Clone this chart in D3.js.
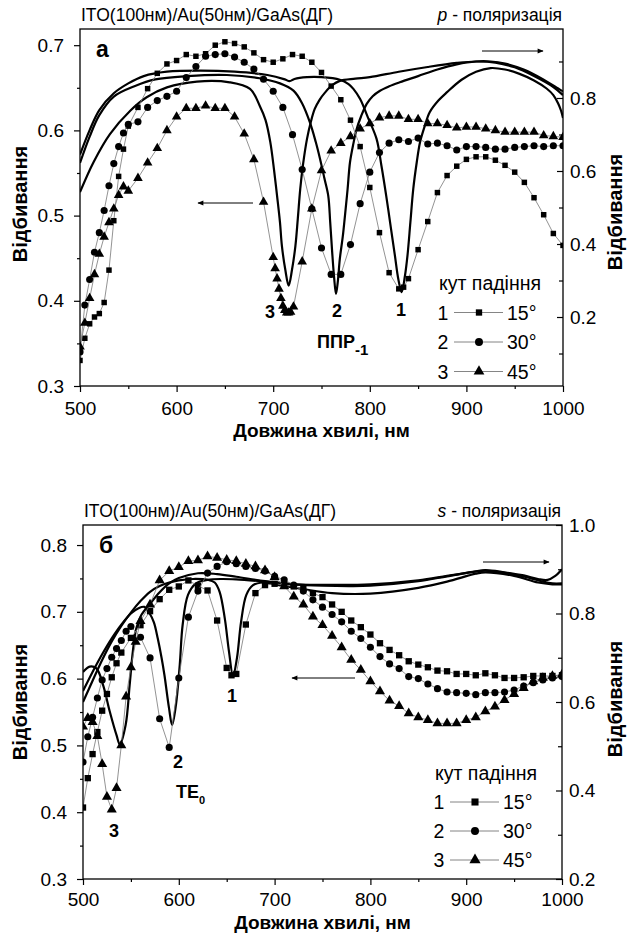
<!DOCTYPE html>
<html><head><meta charset="utf-8">
<script src="https://cdn.jsdelivr.net/npm/d3@7"></script>
<style>
body{margin:0;background:#fff}
text{font-family:Arial,"Liberation Sans",sans-serif;fill:#000}
</style></head>
<body><svg id="c" width="627" height="933"></svg>
<script>
// ===== Panel а (p-polarisation): experiment (left axis) =====
const wlP1 = [500,505,510,515,520,525,530,535,540,545,550,560,570,580,590,600,610,620,630,640,650,660,670,680,690,700,710,720,730,740,750,760,770,780,790,800,810,820,830,835,840,850,860,870,880,890,900,910,920,930,940,950,960,970,980,990,1000];
const rP1  = [0.330,0.356,0.373,0.381,0.385,0.398,0.436,0.494,0.546,0.578,0.605,0.627,0.649,0.667,0.678,0.682,0.689,0.687,0.690,0.700,0.704,0.702,0.698,0.691,0.683,0.680,0.684,0.689,0.687,0.680,0.668,0.652,0.636,0.612,0.581,0.533,0.480,0.433,0.414,0.416,0.426,0.460,0.493,0.527,0.547,0.558,0.566,0.569,0.569,0.565,0.559,0.551,0.539,0.521,0.501,0.479,0.465];
const wlP2 = [500,505,510,515,520,525,530,535,540,545,550,560,570,580,590,600,610,620,630,640,650,660,670,680,690,700,710,720,730,740,750,760,770,780,790,800,810,820,830,840,850,860,870,880,890,900,910,920,930,940,950,960,970,980,990,1000];
const rP2  = [0.340,0.395,0.425,0.457,0.480,0.506,0.535,0.561,0.581,0.597,0.607,0.610,0.627,0.635,0.640,0.646,0.662,0.675,0.687,0.689,0.690,0.686,0.680,0.672,0.660,0.646,0.627,0.595,0.554,0.508,0.462,0.431,0.431,0.466,0.514,0.551,0.574,0.585,0.589,0.587,0.591,0.584,0.585,0.582,0.577,0.581,0.581,0.580,0.578,0.578,0.580,0.581,0.582,0.581,0.582,0.582];
const wlP3 = [500,505,510,515,520,525,530,535,540,545,550,560,570,580,590,600,610,620,630,640,650,660,670,680,690,700,702,704,706,708,710,712,714,716,718,721,730,740,750,760,770,780,790,800,810,820,830,840,850,860,870,880,890,900,910,920,930,940,950,960,970,980,990,1000];
const rP3  = [0.346,0.374,0.403,0.431,0.455,0.475,0.492,0.508,0.524,0.534,0.529,0.544,0.562,0.579,0.600,0.616,0.626,0.626,0.629,0.626,0.626,0.616,0.596,0.566,0.516,0.451,0.438,0.426,0.414,0.403,0.394,0.389,0.386,0.386,0.387,0.393,0.446,0.508,0.553,0.576,0.585,0.593,0.602,0.608,0.615,0.617,0.617,0.613,0.613,0.608,0.608,0.606,0.603,0.604,0.604,0.602,0.600,0.598,0.598,0.598,0.598,0.594,0.593,0.592];
// ===== Panel а: calculation (right axis) =====
const thWlP1 = [500,510,520,535,550,566,590,625,660,694,712,717,722,735,750,769,778,783,790,798,807,812,817,822,826,829.5,833,836.4,839,842,845,848.6,852,857,862,871,880,895,910,925,940,955,970,983,990,995,998,1000];
const thRP1  = [0.645,0.712,0.767,0.813,0.840,0.860,0.872,0.875,0.872,0.863,0.851,0.846,0.852,0.857,0.857,0.850,0.838,0.825,0.797,0.747,0.688,0.615,0.532,0.441,0.368,0.304,0.268,0.313,0.368,0.459,0.551,0.624,0.679,0.724,0.761,0.793,0.816,0.850,0.872,0.882,0.878,0.866,0.848,0.826,0.808,0.785,0.765,0.745];
const thWlP2 = [500,510,520,535,557,578,611,652,686,707,721,730,738,744,748.5,753,757,759,761,763,765,767,769,772,774.3,777,779.5,783,786.4,791,796.8,803,810.6,820,831,850,870,890,910,925,940,960,980,995,1000];
const thRP2  = [0.622,0.694,0.753,0.804,0.833,0.851,0.860,0.863,0.854,0.840,0.820,0.785,0.733,0.680,0.633,0.580,0.532,0.460,0.380,0.310,0.263,0.300,0.360,0.420,0.478,0.550,0.624,0.675,0.715,0.750,0.784,0.805,0.820,0.832,0.843,0.860,0.878,0.892,0.900,0.900,0.894,0.877,0.850,0.826,0.818];
const thWlP3 = [500,514,531,552,569,590,621,655,676,686,692,697,701,704,707,709,712.5,716,719.5,723,725.5,728,731,735,739,743,748,754,761,769,785,800,830,860,890,910,930,950,970,990,1000];
const thRP3  = [0.542,0.624,0.701,0.765,0.802,0.829,0.845,0.843,0.825,0.779,0.740,0.679,0.600,0.532,0.460,0.395,0.330,0.286,0.330,0.395,0.470,0.551,0.620,0.688,0.735,0.770,0.795,0.816,0.835,0.847,0.853,0.857,0.872,0.885,0.896,0.900,0.897,0.884,0.860,0.830,0.808];

// ===== Panel б (s-polarisation): experiment (left axis) =====
const wlS1 = [500,505,510,515,520,525,530,535,540,550,560,570,580,590,600,610,620,630,640,650,655,660,670,680,690,700,710,720,730,740,750,760,770,780,790,800,810,820,830,840,850,860,870,880,890,900,910,920,930,940,950,960,970,980,990,1000];
const rS1  = [0.407,0.451,0.487,0.520,0.552,0.577,0.602,0.623,0.639,0.661,0.680,0.701,0.719,0.733,0.738,0.747,0.739,0.732,0.687,0.616,0.605,0.607,0.681,0.728,0.740,0.742,0.740,0.738,0.735,0.728,0.722,0.711,0.700,0.687,0.677,0.666,0.653,0.643,0.635,0.626,0.621,0.617,0.612,0.611,0.607,0.607,0.605,0.608,0.605,0.601,0.601,0.602,0.604,0.604,0.604,0.605];
const wlS2 = [500,505,510,515,520,525,530,535,540,545,550,560,570,580,590,600,610,620,630,640,650,660,670,680,690,700,710,720,730,740,750,760,770,780,790,800,810,820,830,840,850,860,870,880,890,900,910,920,930,940,950,960,970,980,990,1000];
const rS2  = [0.475,0.513,0.542,0.571,0.598,0.615,0.632,0.645,0.657,0.671,0.678,0.662,0.631,0.540,0.497,0.601,0.692,0.731,0.758,0.768,0.775,0.772,0.768,0.765,0.761,0.753,0.748,0.740,0.731,0.718,0.707,0.696,0.685,0.671,0.660,0.647,0.633,0.622,0.615,0.603,0.600,0.592,0.585,0.580,0.579,0.578,0.576,0.579,0.579,0.580,0.583,0.589,0.594,0.598,0.601,0.603];
const wlS3 = [500,505,510,515,520,525,530,535,540,545,550,555,560,570,580,590,600,610,620,630,640,650,660,670,680,690,700,710,720,730,740,750,760,770,780,790,800,810,820,830,840,850,860,870,880,890,900,910,920,930,940,950,960,970,980,990,1000];
const rS3  = [0.528,0.541,0.535,0.514,0.472,0.423,0.404,0.436,0.500,0.573,0.617,0.655,0.686,0.711,0.747,0.761,0.767,0.776,0.777,0.783,0.781,0.778,0.776,0.772,0.768,0.762,0.752,0.738,0.723,0.711,0.693,0.680,0.664,0.647,0.628,0.613,0.596,0.581,0.567,0.559,0.548,0.542,0.538,0.533,0.533,0.533,0.538,0.542,0.551,0.558,0.568,0.577,0.586,0.596,0.601,0.604,0.606];
// ===== Panel б: calculation (right axis) =====
const thWlS1 = [500,510,520,530,540,550,560,570,580,590,600,615,630,637.5,642.6,648,652.4,656.6,660.7,665,670.5,677.5,688,700,730,760,800,850,880,910,920,950,975,990,1000];
const thRS1  = [0.600,0.648,0.695,0.737,0.772,0.802,0.828,0.849,0.862,0.870,0.875,0.878,0.876,0.870,0.849,0.789,0.714,0.659,0.699,0.781,0.842,0.864,0.870,0.866,0.855,0.846,0.845,0.858,0.872,0.890,0.893,0.885,0.870,0.866,0.866];
const thWlS2 = [500,510,520,530,540,550,558,564,569.6,574,578,582,585,589.8,593,597,601,604,609.6,618,630,645,660,690,720,750,800,850,880,910,920,940,960,975,985,993,1000];
const thRS2  = [0.625,0.668,0.708,0.744,0.775,0.800,0.812,0.815,0.800,0.780,0.744,0.700,0.661,0.586,0.548,0.593,0.684,0.774,0.842,0.868,0.876,0.878,0.877,0.872,0.866,0.865,0.866,0.875,0.885,0.895,0.898,0.893,0.886,0.878,0.876,0.885,0.900];
const thWlS3 = [500,507,514,521,528,535,538.5,544.5,548.7,552,555.6,561,570,580,590,600,620,640,660,690,720,750,780,800,850,880,910,920,940,960,980,990,1000];
const thRS3  = [0.668,0.680,0.676,0.638,0.578,0.525,0.504,0.548,0.638,0.714,0.766,0.797,0.822,0.848,0.868,0.880,0.891,0.889,0.883,0.873,0.866,0.863,0.862,0.863,0.873,0.884,0.895,0.897,0.892,0.884,0.872,0.868,0.868];

// ===== Axis ticks =====
const xMajor = [500,600,700,800,900,1000];
const xMinor = [550,650,750,850,950];
const yLeftMajorP = [0.3,0.4,0.5,0.6,0.7];
const yLeftMinorP = [0.35,0.45,0.55,0.65];
const yRightMajorP = [0.2,0.4,0.6,0.8];
const yRightMinorP = [0.1,0.3,0.5,0.7,0.9];
const yLeftMajorS = [0.3,0.4,0.5,0.6,0.7,0.8];
const yLeftMinorS = [0.35,0.45,0.55,0.65,0.75];
const yRightMajorS = [0.2,0.4,0.6,0.8,1.0];
const yRightMinorS = [0.3,0.5,0.7,0.9];
const legendAngles = ["15°","30°","45°"];

const svg = d3.select("#c");
const defs = svg.append("defs");
defs.append("marker").attr("id","ah").attr("viewBox","0 0 10 10").attr("refX",9).attr("refY",5)
  .attr("markerWidth",9).attr("markerHeight",6).attr("markerUnits","userSpaceOnUse").attr("orient","auto")
  .append("path").attr("d","M0,1 L10,5 L0,9 Z").attr("fill","#000");

const symbols = [d3.symbolSquare, d3.symbolCircle, d3.symbolTriangle];
const FONT = "Arial, 'Liberation Sans', sans-serif";

function panel(o){
  const x = d3.scaleLinear().domain([500,1000]).range([o.x0,o.x1]);
  const yL = d3.scaleLinear().domain(o.lDom).range([o.y1,o.y0]);
  const yR = d3.scaleLinear().domain(o.rDom).range([o.y1,o.y0]);
  const g = svg.append("g");
  const cid = "clip"+o.id;
  defs.append("clipPath").attr("id",cid).append("rect")
    .attr("x",o.x0).attr("y",o.y0).attr("width",o.x1-o.x0).attr("height",o.y1-o.y0);
  const plot = g.append("g").attr("clip-path","url(#"+cid+")");

  const lineR = d3.line().x(d=>x(d[0])).y(d=>yR(d[1])).curve(d3.curveCatmullRom.alpha(0.5));
  o.th.forEach(t=>{
    plot.append("path").attr("d",lineR(d3.zip(t[0],t[1]))).attr("fill","none")
      .attr("stroke","#000").attr("stroke-width",2.2);
  });
  const lineL = d3.line().x(d=>x(d[0])).y(d=>yL(d[1]));
  o.ex.forEach((s,i)=>{
    const pts = d3.zip(s[0],s[1]);
    plot.append("path").attr("d",lineL(pts)).attr("fill","none").attr("stroke","#777").attr("stroke-width",0.8);
    plot.selectAll(null).data(pts).enter().append("path")
      .attr("transform",d=>`translate(${x(d[0])},${yL(d[1])})`)
      .attr("d",d3.symbol().type(symbols[i]).size(o.symSize[i])).attr("fill","#000");
  });

  g.append("rect").attr("x",o.x0).attr("y",o.y0).attr("width",o.x1-o.x0).attr("height",o.y1-o.y0)
    .attr("fill","none").attr("stroke","#000").attr("stroke-width",1.3);

  const style = a=>{a.select(".domain").remove(); a.selectAll("line").attr("stroke","#000").attr("stroke-width",1.2);
    a.selectAll("text").attr("font-size",19).attr("font-family",FONT);};
  g.append("g").attr("transform",`translate(0,${o.y1})`)
    .call(d3.axisBottom(x).tickValues(xMajor).tickSize(6).tickPadding(o.xPad).tickFormat(d3.format("d"))).call(style);
  g.append("g").attr("transform",`translate(0,${o.y1})`)
    .call(d3.axisBottom(x).tickValues(xMinor).tickSize(3).tickFormat("")).call(style);
  g.append("g").attr("transform",`translate(${o.x0},0)`)
    .call(d3.axisLeft(yL).tickValues(o.lMaj).tickSize(6).tickPadding(10).tickFormat(d3.format(".1f"))).call(style);
  g.append("g").attr("transform",`translate(${o.x0},0)`)
    .call(d3.axisLeft(yL).tickValues(o.lMin).tickSize(3).tickFormat("")).call(style);
  g.append("g").attr("transform",`translate(${o.x1},0)`)
    .call(d3.axisRight(yR).tickValues(o.rMaj).tickSizeInner(-6).tickSizeOuter(0).tickPadding(7).tickFormat(d3.format(".1f"))).call(style);
  g.append("g").attr("transform",`translate(${o.x1},0)`)
    .call(d3.axisRight(yR).tickValues(o.rMin).tickSizeInner(-4).tickSizeOuter(0).tickFormat("")).call(style);

  g.append("text").attr("x",o.x0+1).attr("y",o.y0-8).attr("font-size",17.5).text("ITO(100нм)/Au(50нм)/GaAs(ДГ)");
  const pt = g.append("text").attr("x",o.x1-1).attr("y",o.y0-8).attr("font-size",17.5).attr("text-anchor","end");
  pt.append("tspan").attr("font-style","italic").text(o.pol);
  pt.append("tspan").text(" - поляризація");
  g.append("text").attr("x",o.x0+16).attr("y",o.y0+o.letterDy).attr("font-size",23).attr("font-weight","bold").text(o.letter);
  g.append("text").attr("x",(o.x0+o.x1)/2).attr("y",o.xLabY).attr("font-size",19).attr("font-weight","bold")
    .attr("text-anchor","middle").text("Довжина хвилі, нм");
  g.append("text").attr("transform",`translate(27,${o.ylabL}) rotate(-90)`).attr("font-size",20).attr("font-weight","bold")
    .attr("text-anchor","middle").text("Відбивання");
  g.append("text").attr("transform",`translate(622,${o.ylabR}) rotate(-90)`).attr("font-size",20).attr("font-weight","bold")
    .attr("text-anchor","middle").text("Відбивання");

  o.arrows.forEach(a=>{
    g.append("line").attr("x1",a[0]).attr("y1",a[1]).attr("x2",a[2]).attr("y2",a[1])
      .attr("stroke","#000").attr("stroke-width",1).attr("marker-end","url(#ah)");
  });
  o.notes.forEach(n=>{
    g.append("text").attr("x",n[0]).attr("y",n[1]).attr("font-size",18).attr("font-weight","bold")
      .attr("text-anchor","middle").text(n[2]);
  });

  const L = o.legend;
  g.append("text").attr("x",L.x+53).attr("y",L.y0).attr("font-size",19.5).attr("text-anchor","middle").text("кут падіння");
  legendAngles.forEach((ang,i)=>{
    const yy = L.y0 + L.dy*(i+1);
    const cy = yy-7;
    g.append("text").attr("x",L.x+6).attr("y",yy).attr("font-size",19.5).attr("text-anchor","middle").text(String(i+1));
    g.append("line").attr("x1",L.x+17).attr("x2",L.x+66).attr("y1",cy).attr("y2",cy).attr("stroke","#777").attr("stroke-width",0.9);
    g.append("path").attr("transform",`translate(${L.x+42},${cy})`)
      .attr("d",d3.symbol().type(symbols[i]).size(o.symSize[i]+10)).attr("fill","#000");
    g.append("text").attr("x",L.x+70).attr("y",yy).attr("font-size",19.5).text(ang);
  });
  return g;
}

const ga = panel({id:"a", x0:80, x1:563, y0:29, y1:386, lDom:[0.3,0.719], rDom:[0.011,0.989],
  lMaj:yLeftMajorP, lMin:yLeftMinorP, rMaj:yRightMajorP, rMin:yRightMinorP, xPad:10, xLabY:437,
  ex:[[wlP1,rP1],[wlP2,rP2],[wlP3,rP3]], th:[[thWlP1,thRP1],[thWlP2,thRP2],[thWlP3,thRP3]],
  symSize:[30,40,40], pol:"p", letter:"а", letterDy:28, ylabL:204, ylabR:212,
  arrows:[[253,203,198],[482,51,543]],
  notes:[[270,318,"3"],[337,317,"2"],[401,316,"1"]],
  legend:{x:437, y0:290, dy:29.5}});
const pp = ga.append("text").attr("x",317).attr("y",348).attr("font-size",18).attr("font-weight","bold");
pp.append("tspan").text("ППР");
pp.append("tspan").attr("dy",7).attr("font-size",15).text("-1");

const gb = panel({id:"b", x0:83, x1:562, y0:525, y1:879, lDom:[0.3,0.83], rDom:[0.2,1.0],
  lMaj:yLeftMajorS, lMin:yLeftMinorS, rMaj:yRightMajorS, rMin:yRightMinorS, xPad:8, xLabY:929,
  ex:[[wlS1,rS1],[wlS2,rS2],[wlS3,rS3]], th:[[thWlS1,thRS1],[thWlS2,thRS2],[thWlS3,thRS3]],
  symSize:[40,40,44], pol:"s", letter:"б", letterDy:28, ylabL:702, ylabR:699,
  arrows:[[355,678,292],[483,562,549]],
  notes:[[232,702,"1"],[178,768,"2"],[114,837,"3"]],
  legend:{x:433, y0:780, dy:29}});
const te = gb.append("text").attr("x",176).attr("y",798).attr("font-size",18).attr("font-weight","bold");
te.append("tspan").text("TE");
te.append("tspan").attr("dy",6).attr("font-size",11).text("0");
</script>
</body></html>
